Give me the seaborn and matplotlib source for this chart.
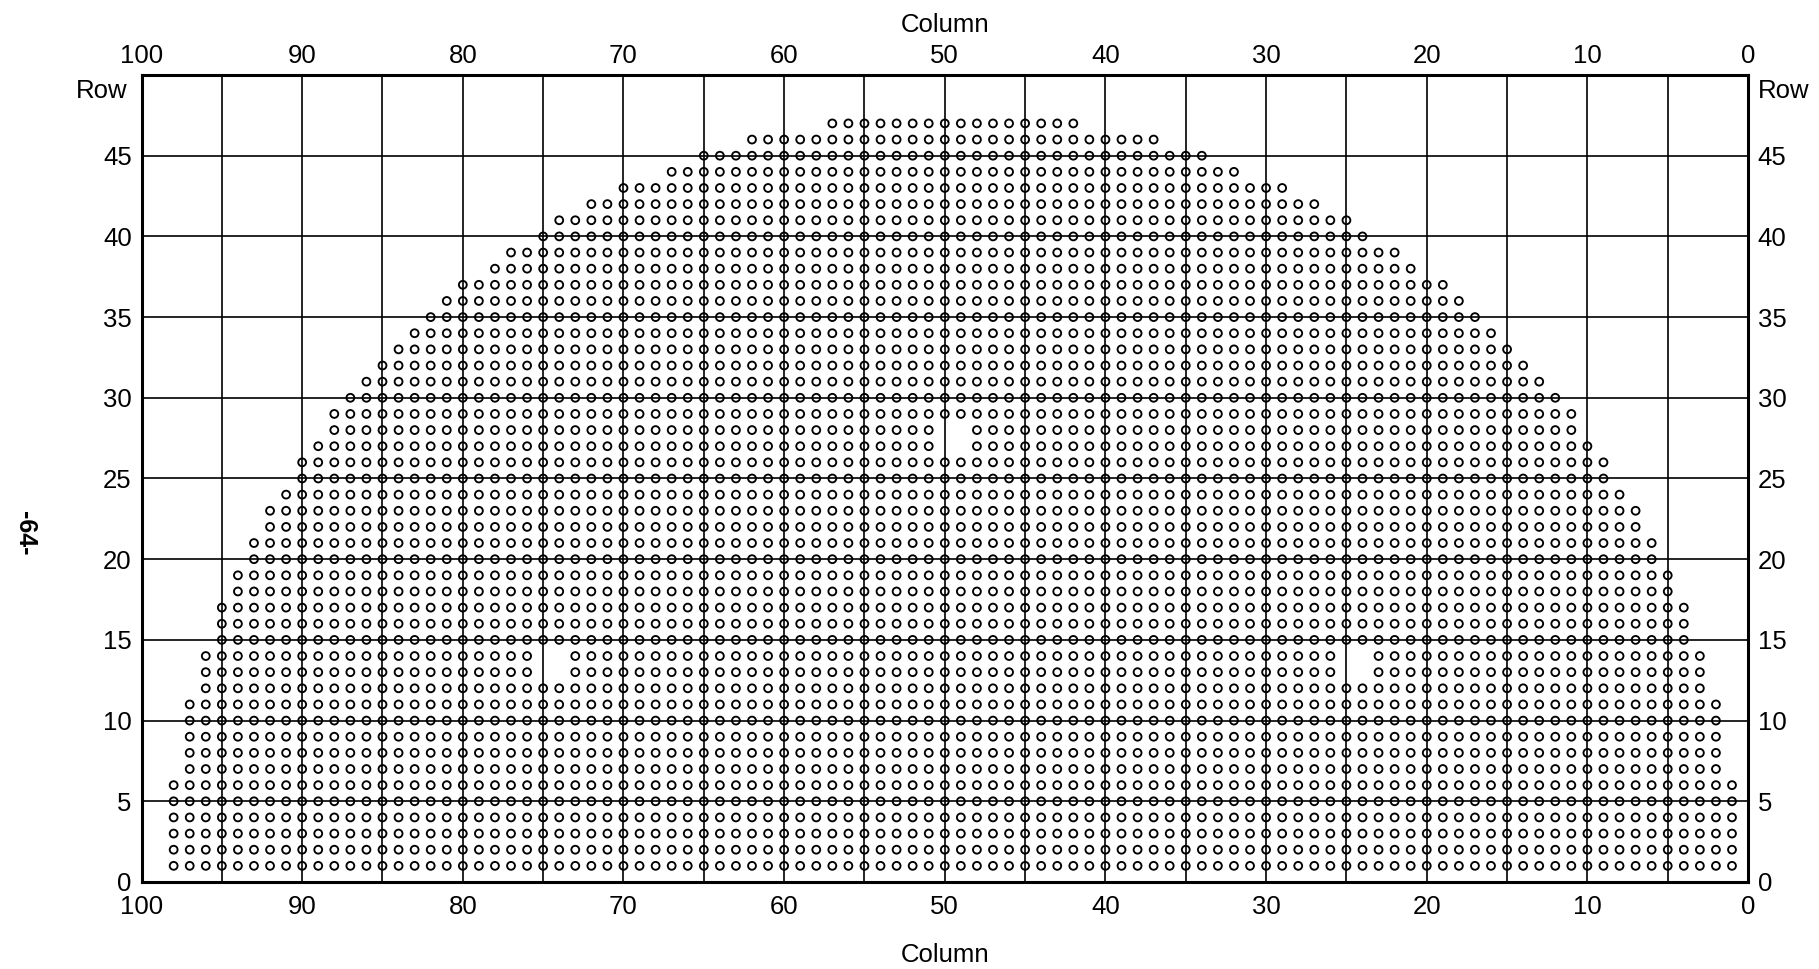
import numpy as np
import pandas as pd
import matplotlib
matplotlib.use("Agg")
import matplotlib.pyplot as plt
import seaborn as sns

# ---- data ----
rows = list(range(1, 48))
left_col = [98, 98, 98, 98, 98, 98,
            97, 97, 97, 97, 97,
            96, 96, 96,
            95, 95, 95,
            94, 94,
            93, 93,
            92, 92,
            91,
            90, 90,
            89,
            88, 88,
            87, 86, 85, 84, 83, 82, 81, 80, 78, 77, 75, 74, 72, 70, 67, 65, 62, 57]
right_col = [1, 1, 1, 1, 1, 1,
             2, 2, 2, 2, 2,
             3, 3, 3,
             4, 4, 4,
             5, 5,
             6, 6,
             7, 7,
             8,
             9, 9,
             10,
             11, 11,
             12, 13, 14, 15, 16, 17, 18, 19, 21, 22, 24, 25, 27, 29, 32, 34, 37, 42]
hole_cols = [75, 74, 75, 74, 25, 24, 25, 24, 50, 49, 50, 49]
hole_rows = [14, 14, 13, 13, 14, 14, 13, 13, 28, 28, 27, 27]

x_ticks = [100, 90, 80, 70, 60, 50, 40, 30, 20, 10, 0]
y_ticks = [0, 5, 10, 15, 20, 25, 30, 35, 40, 45]

# ---- build point table ----
holes = set(zip(hole_cols, hole_rows))
pts = []
for r, lo, hi in zip(rows, left_col, right_col):
    for c in range(hi, lo + 1):
        if (c, r) not in holes:
            pts.append((c, r))
df = pd.DataFrame(pts, columns=["Column", "Row"])

sns.set_theme(style="white")
plt.rcParams["font.family"] = ["Liberation Sans", "DejaVu Sans"]

FS = 18.5

fig = plt.figure(figsize=(18.19, 9.69), dpi=100)
ax = fig.add_axes([0.0778, 0.0898, 0.8832, 0.8328])

# grid lines every 5 units
for gx in range(5, 100, 5):
    ax.axvline(gx, color="black", lw=1.2, zorder=1)
for gy in range(5, 50, 5):
    ax.axhline(gy, color="black", lw=1.2, zorder=1)

sns.scatterplot(data=df, x="Column", y="Row", ax=ax, marker="o", s=32,
                facecolor="none", edgecolor="black", linewidth=1.35,
                zorder=3, legend=False)

ax.set_xlim(100, 0)
ax.set_ylim(0, 50)
ax.set_xticks(x_ticks)
ax.set_xticklabels([str(v) for v in x_ticks])
ax.set_yticks(y_ticks)
ax.set_yticklabels([str(v) for v in y_ticks])
ax.tick_params(axis="x", length=0, labelsize=FS, pad=9.5, colors="black")
ax.tick_params(axis="y", length=0, labelsize=FS, pad=7, colors="black",
               labelleft=True, labelright=True)
ax.set_xlabel("Column", fontsize=FS, labelpad=17, color="black")
ax.set_ylabel("")

secx = ax.secondary_xaxis("top")
secx.set_xticks(x_ticks)
secx.set_xticklabels([str(v) for v in x_ticks])
secx.tick_params(axis="x", length=0, labelsize=FS, pad=5, colors="black")
secx.set_xlabel("Column", fontsize=FS, labelpad=9, color="black")
secx.spines["top"].set_visible(False)

for sp in ax.spines.values():
    sp.set_color("black")
    sp.set_linewidth(2.2)

# "Row" labels above the tick labels on both sides
ax.text(-0.009, 49.0, "Row", transform=ax.get_yaxis_transform(), ha="right",
        va="center", fontsize=FS, color="black")
ax.text(1.006, 49.0, "Row", transform=ax.get_yaxis_transform(), ha="left",
        va="center", fontsize=FS, color="black")

fig.text(0.014, 0.45, "-64-", rotation=-90, ha="center", va="center",
         fontsize=18, fontweight="bold", color="black")

fig.savefig("out.png", dpi=100, facecolor="white")
